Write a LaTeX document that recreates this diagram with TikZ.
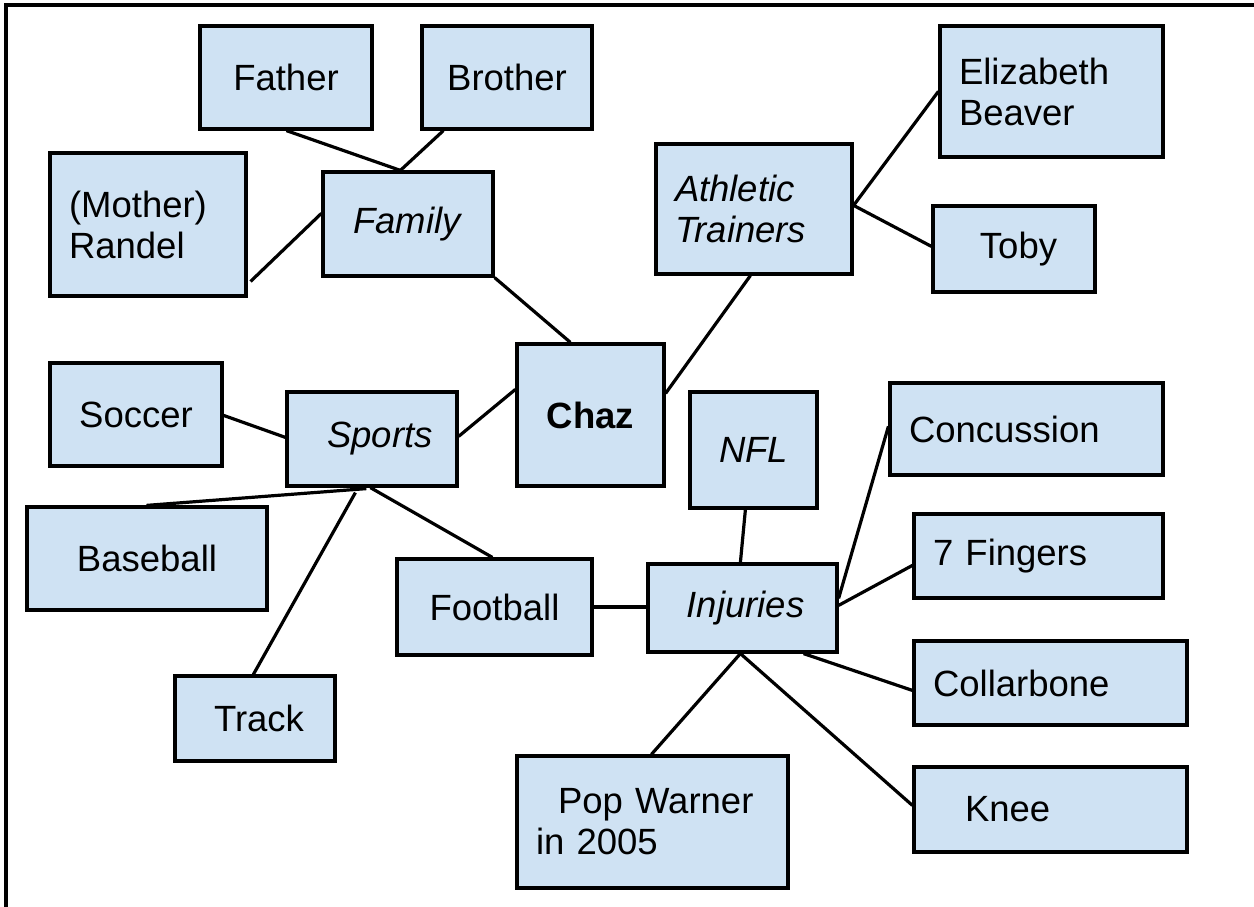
\documentclass[tikz,border=0pt]{standalone}
\usepackage{fontspec}
\setmainfont{Liberation Sans}
\usetikzlibrary{calc}
\definecolor{boxblue}{HTML}{CFE2F3}
\begin{document}
\begin{tikzpicture}[x=1pt,y=-1pt,
  cbox/.style={draw=black, fill=boxblue, line width=3.2pt, rectangle, inner sep=0pt, align=center, font=\fontsize{36.5}{41}\selectfont},
  lbox/.style={cbox, align=left, inner xsep=19pt},
  link/.style={line width=3.2pt, draw=black},
  frameline/.style={line width=3.5pt, draw=black}]
\fill[white] (0,0) rectangle (1254,907);
\useasboundingbox (0,0) rectangle (1254,907);
\draw[frameline] (6,907) -- (6,5) -- (1254,5);

% nodes
\node[cbox, minimum width=172pt, minimum height=103pt] (father) at (286,77.5) {Father};
\node[cbox, minimum width=170pt, minimum height=103pt] (brother) at (507,77.5) {Brother};
\node[lbox, text width=158pt, minimum height=143pt] (mother) at (148,224.5) {(Mother)\\Randel};
\node[cbox, minimum width=170pt, minimum height=104pt] (family) at (408,224) {\textit{Family}};
\node[lbox, text width=158pt, minimum height=130pt] (athletic) at (754,209) {\textit{Athletic}\\\textit{Trainers}};
\node[lbox, text width=185pt, minimum height=131pt] (elizabeth) at (1051.5,91.5) {Elizabeth\\Beaver};
\node[cbox, minimum width=162pt, minimum height=86pt] (toby) at (1014,249) {\hspace*{9pt}Toby};
\node[cbox, minimum width=147pt, minimum height=142pt] (chaz) at (590.5,415) {\textbf{Chaz}};
\node[cbox, minimum width=170pt, minimum height=94pt] (sports) at (372,439) {\hspace*{16pt}\textit{Sports}};
\node[cbox, minimum width=172pt, minimum height=103pt] (soccer) at (136,414.5) {Soccer};
\node[cbox, minimum width=240pt, minimum height=103pt] (baseball) at (147,558.5) {Baseball};
\node[cbox, minimum width=160pt, minimum height=85pt] (track) at (255,718.5) {\hspace*{8pt}Track};
\node[cbox, minimum width=195pt, minimum height=96pt] (football) at (494.5,607) {Football};
\node[cbox, minimum width=189pt, minimum height=88pt] (injuries) at (742.5,608) {\hspace*{6pt}\textit{Injuries}};
\node[cbox, minimum width=127pt, minimum height=116pt] (nfl) at (753.5,450) {\textit{NFL}};
\node[lbox, text width=235pt, minimum height=92pt] (concussion) at (1026.5,429) {Concussion};
\node[lbox, text width=211pt, minimum height=84pt] (fingers) at (1038.5,556) {7 Fingers};
\node[lbox, text width=235pt, minimum height=84pt] (collarbone) at (1050.5,683) {Collarbone};
\node[lbox, text width=235pt, minimum height=85pt] (knee) at (1050.5,809.5) {\hspace*{32pt}Knee};
\node[lbox, text width=233pt, minimum height=132pt] (pop) at (652.5,822) {\hspace*{22pt}Pop Warner\\in 2005};

% connectors
\draw[link] ($(father.south west)+(88,0)$) -- ($(family.north west)+(79,0)$);
\draw[link] ($(brother.south west)+(23,0)$) -- ($(family.north west)+(79,0)$);
\draw[link] ($(family.north west)+(0,43)$) -- ($(mother.north east)+(3,130)$);
\draw[link] (family.south east) -- ($(chaz.north west)+(55,0)$);
\draw[link] ($(athletic.south west)+(96,0)$) -- ($(chaz.north east)+(0,51)$);
\draw[link] ($(athletic.north east)+(0,63)$) -- ($(elizabeth.north west)+(0,67)$);
\draw[link] ($(athletic.north east)+(0,63)$) -- ($(toby.north west)+(0,42)$);
\draw[link] ($(sports.north east)+(0,46)$) -- ($(chaz.north west)+(0,47)$);
\draw[link] ($(soccer.north east)+(0,54)$) -- ($(sports.north west)+(0,47)$);
\draw[link] ($(baseball.north west)+(121,0)$) -- ($(sports.south west)+(81,1)$);
\draw[link] ($(track.north west)+(80,0)$) -- ($(sports.south west)+(70,5)$);
\draw[link] ($(sports.south west)+(85,0)$) -- ($(football.north west)+(97,0)$);
\draw[link] (football.east) -- (football.east -| injuries.west);
\draw[link] ($(nfl.south west)+(57,0)$) -- ($(injuries.north west)+(94,0)$);
\draw[link] ($(concussion.north west)+(0,45)$) -- ($(injuries.north east)+(0,36)$);
\draw[link] ($(fingers.north west)+(0,53)$) -- ($(injuries.north east)+(0,43)$);
\draw[link] ($(injuries.south east)+(-35,0)$) -- ($(collarbone.north west)+(0,51)$);
\draw[link] ($(injuries.south west)+(94,0)$) -- ($(knee.north west)+(0,40)$);
\draw[link] ($(injuries.south west)+(94,0)$) -- ($(pop.north west)+(136,0)$);
\end{tikzpicture}
\end{document}
